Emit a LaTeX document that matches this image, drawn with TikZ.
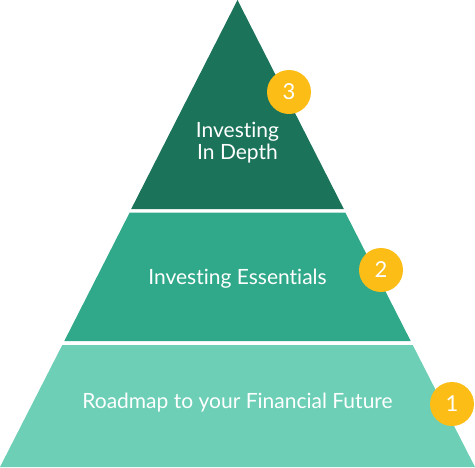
\documentclass[tikz,border=0pt]{standalone}
\usepackage{fontspec}
\setmainfont[Ligatures=NoCommon]{Lato}
\definecolor{lvA}{HTML}{1B7359}
\definecolor{lvB}{HTML}{30A98A}
\definecolor{lvC}{HTML}{6CCFB6}
\definecolor{badge}{HTML}{FBBD16}
\begin{document}
\begin{tikzpicture}[x=1pt,y=-1pt,
  lbl/.style={text=white,font=\fontsize{21}{22}\selectfont,align=center},
  numbadge/.style={circle,fill=badge,minimum size=44pt,inner sep=0pt,text=white,font=\fontsize{22}{22}\selectfont}]
\useasboundingbox (0,0) rectangle (475,467);
% levels
\fill[lvA] (237.5,0) -- (343.8,209) -- (131.2,209) -- cycle;
\fill[lvB] (345.3,212.5) -- (410.7,341) -- (64.3,341) -- (129.7,212.5) -- cycle;
\fill[lvC] (412.7,345) -- (475,467) -- (0,467) -- (62.3,345) -- cycle;
\node[lbl] (t3) at (237.5,143) {Investing\\In Depth};
\node[lbl] (t2) at (237.5,279) {Investing Essentials};
\node[lbl] (t1) at (237.5,403) {Roadmap to your Financial Future};
\node[numbadge] (b3) at (289,92) {3};
\node[numbadge] (b2) at (381,270) {2};
\node[numbadge] (b1) at (452,404) {1};
\end{tikzpicture}
\end{document}
